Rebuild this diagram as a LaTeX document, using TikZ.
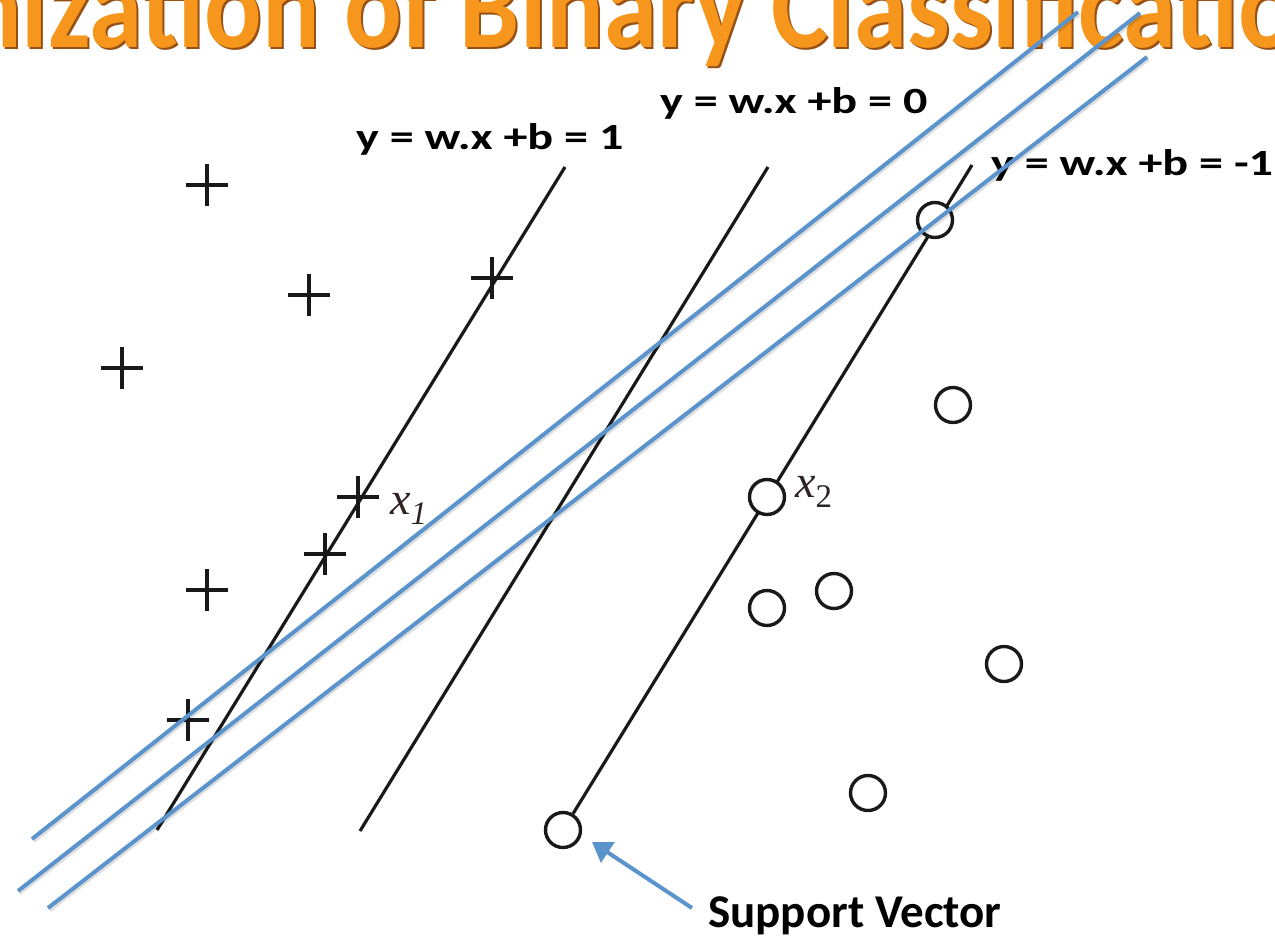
\documentclass[tikz,border=0pt]{standalone}
\usepackage{fontspec}
\newfontfamily\eqfont{Carlito}[FakeStretch=1.3]
\newfontfamily\lblfont{Carlito}
\newfontfamily\titlefont{Carlito}[FakeStretch=0.88]
\newfontfamily\xfont{Liberation Serif}
\usetikzlibrary{shapes.misc,arrows.meta}
\definecolor{svmblue}{RGB}{91,147,205}
\definecolor{titleorange}{RGB}{247,150,28}
\definecolor{titleshade}{RGB}{150,80,20}
\definecolor{ink}{RGB}{25,25,25}
\definecolor{xink}{RGB}{45,35,35}
\begin{document}
\begin{tikzpicture}[x=1pt,y=-1pt,
  plusmk/.style={draw=ink, cross out, rotate=45, minimum size=26pt, inner sep=0pt, line width=3.4pt},
  circmk/.style={draw=ink, circle, fill=white, minimum size=35pt, inner sep=0pt, line width=3.4pt},
  hyper/.style={draw=ink, line width=3.2pt},
  margin/.style={draw=svmblue, line width=4pt},
  marginshadow/.style={draw=black, opacity=0.13, line width=4pt, transform canvas={xshift=1.5pt,yshift=-2pt}},
  eqlabel/.style={anchor=base west, inner sep=0pt, font=\eqfont\bfseries\fontsize{37}{40}\selectfont},
  svlabel/.style={anchor=base west, inner sep=0pt, font=\lblfont\bfseries\fontsize{47}{50}\selectfont},
  titletext/.style={anchor=base west, inner sep=0pt, font=\titlefont\bfseries\fontsize{122}{124}\selectfont},
  xlabel/.style={anchor=base west, inner sep=0pt, text=xink, font=\xfont\fontsize{46}{50}\selectfont\itshape},
  svarrow/.style={draw=svmblue, line width=4pt, -{Triangle[width=24pt,length=19pt]}}
]
\useasboundingbox (0,0) rectangle (1275,938);
\fill[white] (0,0) rectangle (1275,938);

% title (cut by the frame)
\begin{scope}
\clip (0,0) rectangle (1275,938);
\node[titletext, text=titleshade] (titleshadow) at (-34,49.5) {nization of Binary Classificatio};
\node[titletext, text=titleorange] (title) at (-36,47) {nization of Binary Classificatio};
\end{scope}

% hyperplane end points
\coordinate (h1b) at (157,830);
\coordinate (h1t) at (565,167);
\coordinate (h0b) at (360,831);
\coordinate (h0t) at (768,167);
\coordinate (hmt) at (972,165);

% hyperplanes
\draw[hyper] (h1b) -- (h1t);
\draw[hyper] (h0b) -- (h0t);

% circles (class -1)
\node[circmk] (c8) at (563,830) {};
\draw[hyper] (c8) -- (hmt);
\node[circmk] (c1) at (935,220) {};
\node[circmk] (c2) at (953,405) {};
\node[circmk] (c3) at (767,497) {};
\node[circmk] (c4) at (767,608) {};
\node[circmk] (c5) at (834,591) {};
\node[circmk] (c6) at (1004,664) {};
\node[circmk] (c7) at (868,793) {};

% pluses (class +1)
\node[plusmk] (p1) at (207,185) {};
\node[plusmk] (p2) at (309,295) {};
\node[plusmk] (p3) at (122,368) {};
\node[plusmk] (p4) at (492,278) {};
\node[plusmk] (p5) at (358,497) {};
\node[plusmk] (p6) at (325,554) {};
\node[plusmk] (p7) at (207,590) {};
\node[plusmk] (p8) at (188,720) {};

% point labels
\node[xlabel] (x1lab) at (390,514) {x\raisebox{-10pt}{\fontsize{33}{33}\selectfont 1}};
\node[xlabel] (x2lab) at (795,497) {x\raisebox{-10pt}{\fontsize{33}{33}\selectfont\upshape 2}};

% equation labels
\node[eqlabel] (eq1) at (356,149) {y = w.x +b = 1};
\node[eqlabel] (eq0) at (660,113) {y = w.x +b = 0};
\node[eqlabel] (eqm) at (991,175) {y = w.x +b = -1};

% blue lines
\coordinate (ab) at (32,839);
\coordinate (at) at (1078,12);
\coordinate (bb) at (18,891);
\coordinate (bt) at (1140,13);
\coordinate (cb) at (48,908);
\coordinate (ct) at (1147,57);
\draw[marginshadow] (ab) -- (at);
\draw[marginshadow] (bb) -- (bt);
\draw[marginshadow] (cb) -- (ct);
\draw[margin] (ab) -- (at);
\draw[margin] (bb) -- (bt);
\draw[margin] (cb) -- (ct);

% support vector annotation
\node[svlabel] (svlab) at (708,927) {Support Vector};
\coordinate (svtail) at (692,908);
\coordinate (svtip) at (592,842);
\draw[svarrow] (svtail) -- (svtip);
\end{tikzpicture}
\end{document}
